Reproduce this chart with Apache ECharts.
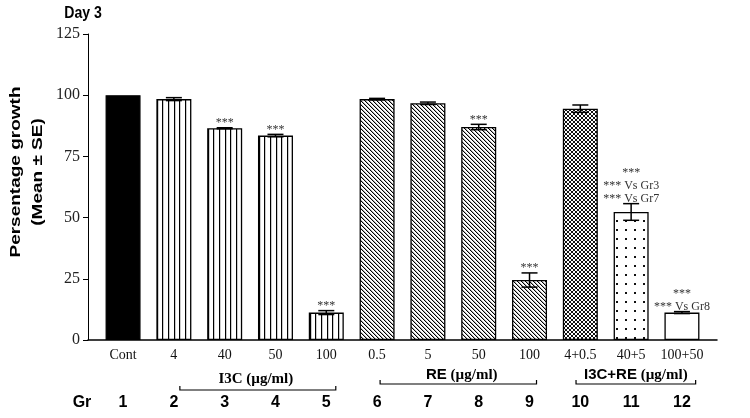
<!DOCTYPE html>
<html><head><meta charset="utf-8">
<script src="https://cdn.jsdelivr.net/npm/echarts@6/dist/echarts.min.js"></script>
<style>html,body{margin:0;padding:0;background:#fff}#c{width:750px;height:418px}</style>
</head><body><div id="c"></div>
<script>
// ---------- data ----------
const categories = ['Cont', '4', '40', '50', '100', '0.5', '5', '50', '100', '4+0.5', '40+5', '100+50'];
const groupNumbers = ['1', '2', '3', '4', '5', '6', '7', '8', '9', '10', '11', '12'];
const means = [100, 98.4, 86.5, 83.5, 11.2, 98.4, 96.7, 87.0, 24.5, 94.5, 52.3, 11.2];
const errors = [0, 0.6, 0.2, 0.5, 0.8, 0.3, 0.5, 1.1, 2.9, 1.5, 3.4, 0.4];
const annotations = ['', '', '***', '***', '***', '', '', '***', '***', '', '***\n*** Vs Gr3\n*** Vs Gr7', '***\n*** Vs Gr8'];
const patterns = ['solid', 'vertical', 'vertical', 'vertical', 'vertical', 'diagonal', 'diagonal', 'diagonal', 'diagonal', 'cross', 'dots', 'empty'];
const yTicks = [0, 25, 50, 75, 100, 125];
const groupNames = ['I3C', 'RE', 'I3C+RE'];
const groupFirst = [2, 6, 10];
const groupLast = [5, 9, 12];
const groupUnit = ' (µg/ml)';

// ---------- styling (pixel offsets) ----------
const bracketStyle = [
  {dx1: 6, dx2: 9.5, dy: 50, ty: 39, tx: -2, serif: true},
  {dx1: 3, dx2: 7, dy: 44, ty: 35, tx: 3.5, serif: false},
  {dx1: -4.3, dx2: 13.7, dy: 44, ty: 35, tx: 0, serif: false}
];

function makePattern(type) {
  const c = document.createElement('canvas');
  const ctx = c.getContext('2d');
  if (type === 'vertical') {
    c.width = 17; c.height = 4;
    ctx.fillStyle = '#fff'; ctx.fillRect(0, 0, 17, 4);
    ctx.fillStyle = '#000';
    [4, 9, 15].forEach(x => ctx.fillRect(x, 0, 1.2, 4));
  } else if (type === 'diagonal') {
    c.width = 4; c.height = 4;
    ctx.fillStyle = '#fff'; ctx.fillRect(0, 0, 4, 4);
    for (let i = 0; i < 4; i++) {
      ctx.fillStyle = '#000'; ctx.fillRect(i, i, 1, 1);
      ctx.fillStyle = 'rgba(0,0,0,0.3)'; ctx.fillRect((i + 1) % 4, i, 1, 1);
    }
  } else if (type === 'cross') {
    c.width = 4; c.height = 4;
    ctx.fillStyle = '#fff'; ctx.fillRect(0, 0, 4, 4);
    ctx.fillStyle = '#111';
    for (let i = 0; i < 4; i++) { ctx.fillRect(i, i, 1, 1); ctx.fillRect(3 - i, i, 1, 1); }
  } else if (type === 'dots') {
    c.width = 9; c.height = 9;
    ctx.fillStyle = '#fff'; ctx.fillRect(0, 0, 9, 9);
    ctx.fillStyle = '#111'; ctx.fillRect(4, 4, 2, 2);
  }
  return {image: c, repeat: 'repeat'};
}
function fillFor(type) {
  if (type === 'solid') return '#000';
  if (type === 'empty') return '#fff';
  return makePattern(type);
}

const xMin = 0.31, xMax = 12.69;
const chart = echarts.init(document.getElementById('c'));

const option = {
  animation: false,
  backgroundColor: '#fff',
  grid: {left: 88, right: 33, top: 34, bottom: 78, containLabel: false},
  xAxis: [{
    type: 'value', min: xMin, max: xMax,
    axisLine: {show: true, lineStyle: {color: '#000', width: 1.5}},
    axisTick: {show: false},
    splitLine: {show: false},
    axisLabel: {
      customValues: groupNumbers.map((g, i) => i + 1),
      formatter: v => categories[Math.round(v) - 1],
      fontFamily: '"Liberation Serif"', fontSize: 14, color: '#111', margin: 8
    }
  }, {
    type: 'value', min: xMin, max: xMax, position: 'bottom', offset: 50,
    axisLine: {show: false}, axisTick: {show: false}, splitLine: {show: false},
    axisLabel: {
      customValues: groupNumbers.map((g, i) => i + 1),
      formatter: v => groupNumbers[Math.round(v) - 1],
      fontFamily: '"Liberation Sans"', fontWeight: 'bold', fontSize: 16, color: '#000', margin: 5
    }
  }],
  yAxis: {
    type: 'value', min: yTicks[0], max: yTicks[yTicks.length - 1], interval: yTicks[1] - yTicks[0],
    axisLine: {show: true, lineStyle: {color: '#000', width: 1}},
    axisTick: {show: true, length: 5, lineStyle: {color: '#000'}},
    splitLine: {show: false},
    axisLabel: {fontFamily: '"Liberation Serif"', fontSize: 16, color: '#222', margin: 8}
  },
  series: [{
    type: 'bar', xAxisIndex: 0, yAxisIndex: 0, barWidth: 35,
    data: means.map((m, i) => ({
      value: [i + 1, m],
      itemStyle: {color: fillFor(patterns[i]), borderColor: '#000', borderWidth: 1.3}
    })),
    z: 2
  }, {
    type: 'custom', xAxisIndex: 0, yAxisIndex: 0, z: 5, clip: false,
    data: means.map((m, i) => [i + 1, m, errors[i]]),
    renderItem: function (params, api) {
      const x = api.value(0), m = api.value(1), e = api.value(2);
      const top = api.coord([x, m + e]);
      const bot = api.coord([x, m - e]);
      const half = 8;
      const children = [];
      if (e > 0) {
        const st = {stroke: '#000', lineWidth: 1.5};
        children.push({type: 'line', shape: {x1: top[0], y1: top[1], x2: bot[0], y2: bot[1]}, style: st});
        children.push({type: 'line', shape: {x1: top[0] - half, y1: top[1], x2: top[0] + half, y2: top[1]}, style: st});
        children.push({type: 'line', shape: {x1: bot[0] - half, y1: bot[1], x2: bot[0] + half, y2: bot[1]}, style: st});
      }
      const ann = annotations[params.dataIndex];
      if (ann) {
        children.push({type: 'text', x: top[0], y: top[1] + 2, style: {
          text: ann, align: 'center', verticalAlign: 'bottom',
          font: '12px "Liberation Serif"', fill: '#333', lineHeight: 13.3
        }});
      }
      return {type: 'group', children: children};
    }
  }, {
    type: 'custom', xAxisIndex: 0, yAxisIndex: 0, z: 5, clip: false,
    data: groupNames.map((n, i) => [groupFirst[i], groupLast[i]]),
    renderItem: function (params, api) {
      const i = params.dataIndex;
      const s = bracketStyle[i];
      const p1 = api.coord([api.value(0), 0]);
      const p2 = api.coord([api.value(1), 0]);
      const x1 = p1[0] + s.dx1, x2 = p2[0] + s.dx2, y = p1[1] + s.dy;
      const nameStyle = s.serif ? 'n' : 'a';
      return {type: 'group', children: [
        {type: 'polyline', shape: {points: [[x1, y - 4], [x1, y], [x2, y], [x2, y - 4]]},
          style: {stroke: '#000', lineWidth: 1.2, fill: null}},
        {type: 'text', x: (x1 + x2) / 2 + s.tx, y: p1[1] + s.ty, style: {
          text: '{' + nameStyle + '|' + groupNames[i] + '}{u|' + groupUnit + '}',
          align: 'center', verticalAlign: 'middle',
          rich: {
            n: {font: 'bold 15px "Liberation Serif"', fill: '#000'},
            a: {font: 'bold 15px "Liberation Sans"', fill: '#000'},
            u: {font: 'bold 15px "Liberation Serif"', fill: '#000'}
          }
        }}
      ]};
    }
  }],
  graphic: [
    {type: 'text', x: 83, y: 14, scaleX: 0.88, style: {
      text: 'Day 3', font: 'bold 16px "Liberation Sans"', fill: '#000', align: 'center', verticalAlign: 'middle'}},
    {type: 'text', x: 27, y: 172, rotation: Math.PI / 2, scaleY: 0.75, style: {
      text: 'Persentage growth\n(Mean ± SE)', font: 'bold 19px "Liberation Sans"', fill: '#000',
      align: 'center', verticalAlign: 'middle', lineHeight: 30}},
    {type: 'text', x: 82, y: 403, style: {
      text: 'Gr', font: 'bold 16px "Liberation Sans"', fill: '#000', align: 'center', verticalAlign: 'middle'}}
  ]
};
chart.setOption(option);
</script>
</body></html>
